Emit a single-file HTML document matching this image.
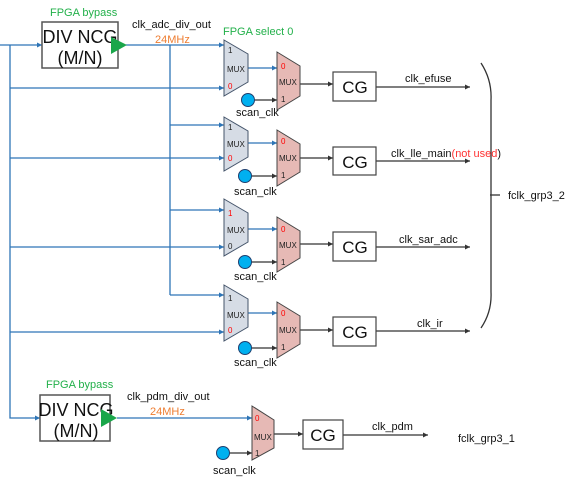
<!DOCTYPE html>
<html><head><meta charset="utf-8"><style>
html,body{margin:0;padding:0;background:#fff;}
svg{display:block;font-family:"Liberation Sans",sans-serif;}
</style></head><body>
<svg width="574" height="484" viewBox="0 0 574 484" xmlns="http://www.w3.org/2000/svg">
<defs>
<marker id="ab" markerWidth="6" markerHeight="6" refX="5" refY="3" orient="auto" markerUnits="userSpaceOnUse"><path d="M0,0.5 L5,3 L0,5.5z" fill="#2e75b6"/></marker>
<marker id="ak" markerWidth="6" markerHeight="6" refX="5" refY="3" orient="auto" markerUnits="userSpaceOnUse"><path d="M0,0.5 L5,3 L0,5.5z" fill="#333"/></marker>
</defs>
<g stroke="#2e75b6" stroke-width="1.3" fill="none">
<line x1="0" y1="45" x2="42" y2="45" marker-end="url(#ab)"/>
<polyline points="10,45 10,418 40,418" marker-end="url(#ab)"/>
<line x1="126" y1="45" x2="224" y2="45" marker-end="url(#ab)"/>
<line x1="170" y1="45" x2="170" y2="295"/>
<line x1="10" y1="88" x2="224" y2="88" marker-end="url(#ab)"/>
<line x1="170" y1="125" x2="224" y2="125" marker-end="url(#ab)"/>
<line x1="10" y1="158" x2="224" y2="158" marker-end="url(#ab)"/>
<line x1="170" y1="210" x2="224" y2="210" marker-end="url(#ab)"/>
<line x1="10" y1="247" x2="224" y2="247" marker-end="url(#ab)"/>
<line x1="170" y1="295" x2="224" y2="295" marker-end="url(#ab)"/>
<line x1="10" y1="332" x2="224" y2="332" marker-end="url(#ab)"/>
<line x1="248" y1="68" x2="277" y2="68" marker-end="url(#ab)"/>
<line x1="248" y1="143" x2="277" y2="143" marker-end="url(#ab)"/>
<line x1="248" y1="229" x2="277" y2="229" marker-end="url(#ab)"/>
<line x1="248" y1="313" x2="277" y2="313" marker-end="url(#ab)"/>
<line x1="117" y1="418" x2="252" y2="418" marker-end="url(#ab)"/>
</g>
<rect x="42" y="22" width="76" height="46" fill="#fff" stroke="#555" stroke-width="1.5"/>
<text x="80" y="43" font-size="18" text-anchor="middle" fill="#111">DIV NCG</text>
<text x="80" y="64" font-size="18" text-anchor="middle" fill="#111">(M/N)</text>
<polygon points="111,37 127,45 111,54" fill="#1aa64a"/>
<rect x="40" y="395" width="70" height="46" fill="#fff" stroke="#555" stroke-width="1.5"/>
<text x="76" y="416" font-size="18" text-anchor="middle" fill="#111">DIV NCG</text>
<text x="76" y="437" font-size="18" text-anchor="middle" fill="#111">(M/N)</text>
<polygon points="101,409 117,418 101,427" fill="#1aa64a"/>
<text x="50" y="16" font-size="11" fill="#22b04a">FPGA  bypass</text>
<text x="46" y="388" font-size="11" fill="#22b04a">FPGA  bypass</text>
<text x="223" y="35" font-size="11" fill="#22b04a">FPGA  select 0</text>
<text x="132" y="28" font-size="11" fill="#111">clk_adc_div_out</text>
<text x="155" y="43" font-size="11" fill="#ee7d31">24MHz</text>
<text x="127" y="400" font-size="11" fill="#111">clk_pdm_div_out</text>
<text x="150" y="415" font-size="11" fill="#ee7d31">24MHz</text>
<g stroke="#44546a" stroke-width="1" fill="#d6dce5">
<polygon points="224,40 248,54 248,82 224,96"/>
<polygon points="224,117 248,131 248,157 224,171"/>
<polygon points="224,199 248,213 248,242 224,256"/>
<polygon points="224,285 248,299 248,327 224,341"/>
</g>
<g font-size="8" fill="#222">
<text x="228" y="53">1</text><text x="227" y="72">MUX</text><text x="228" y="89" fill="#f00">0</text>
<text x="228" y="130">1</text><text x="227" y="147">MUX</text><text x="228" y="161" fill="#f00">0</text>
<text x="228" y="216" fill="#f00">1</text><text x="227" y="233">MUX</text><text x="228" y="249">0</text>
<text x="228" y="301">1</text><text x="227" y="318">MUX</text><text x="228" y="333" fill="#f00">0</text>
</g>
<g stroke="#333" stroke-width="1.3" fill="none">
<line x1="248" y1="100" x2="277" y2="100" marker-end="url(#ak)"/>
<line x1="246" y1="176" x2="277" y2="176" marker-end="url(#ak)"/>
<line x1="246" y1="262" x2="277" y2="262" marker-end="url(#ak)"/>
<line x1="246" y1="348" x2="277" y2="348" marker-end="url(#ak)"/>
<line x1="223" y1="453" x2="252" y2="453" marker-end="url(#ak)"/>
<line x1="300" y1="84" x2="333" y2="84" marker-end="url(#ak)"/>
<line x1="300" y1="158" x2="333" y2="158" marker-end="url(#ak)"/>
<line x1="300" y1="244" x2="333" y2="244" marker-end="url(#ak)"/>
<line x1="300" y1="330" x2="333" y2="330" marker-end="url(#ak)"/>
<line x1="274" y1="434" x2="303" y2="434" marker-end="url(#ak)"/>
<line x1="376" y1="87" x2="470" y2="87" marker-end="url(#ak)"/>
<line x1="376" y1="161" x2="470" y2="161" marker-end="url(#ak)"/>
<line x1="376" y1="247" x2="470" y2="247" marker-end="url(#ak)"/>
<line x1="376" y1="331" x2="470" y2="331" marker-end="url(#ak)"/>
<line x1="343" y1="435" x2="428" y2="435" marker-end="url(#ak)"/>
<path d="M481,63 Q492,80 491,100 L491,292 Q492,312 481,328"/>
<line x1="490" y1="195" x2="500" y2="195"/>
</g>
<g stroke="#444" stroke-width="1" fill="#e6b9b5">
<polygon points="277,52 300,66 300,96 277,110"/>
<polygon points="277,130 300,144 300,172 277,186"/>
<polygon points="277,217 300,231 300,258 277,272"/>
<polygon points="277,302 300,316 300,344 277,358"/>
<polygon points="252,406 274,420 274,448 252,460"/>
</g>
<g font-size="8" fill="#222">
<text x="281" y="69" fill="#f00">0</text><text x="279" y="85">MUX</text><text x="281" y="102">1</text>
<text x="281" y="144" fill="#f00">0</text><text x="279" y="161">MUX</text><text x="281" y="178">1</text>
<text x="281" y="232" fill="#f00">0</text><text x="279" y="248">MUX</text><text x="281" y="265">1</text>
<text x="281" y="316" fill="#f00">0</text><text x="279" y="333">MUX</text><text x="281" y="350">1</text>
<text x="255" y="421" fill="#f00">0</text><text x="254" y="440">MUX</text><text x="255" y="456">1</text>
</g>
<g fill="#00b0f0" stroke="#1f3f6f" stroke-width="1">
<circle cx="248" cy="100" r="6.5"/><circle cx="245" cy="176" r="6.5"/><circle cx="245" cy="262" r="6.5"/><circle cx="245" cy="348" r="6.5"/><circle cx="223" cy="453" r="6.5"/>
</g>
<g font-size="11" fill="#111">
<text x="236" y="116">scan_clk</text><text x="234" y="195">scan_clk</text><text x="234" y="280">scan_clk</text><text x="234" y="366">scan_clk</text><text x="213" y="474">scan_clk</text>
</g>
<g fill="#fff" stroke="#444" stroke-width="1.2">
<rect x="333" y="72" width="43" height="29"/><rect x="333" y="147" width="43" height="28"/><rect x="333" y="232" width="43" height="29"/><rect x="333" y="317" width="43" height="29"/><rect x="303" y="420" width="40" height="29"/>
</g>
<g font-size="17" fill="#111" text-anchor="middle">
<text x="355" y="93">CG</text><text x="355" y="168">CG</text><text x="355" y="253">CG</text><text x="355" y="338">CG</text><text x="323" y="441">CG</text>
</g>
<g font-size="11" fill="#111">
<text x="405" y="82">clk_efuse</text>
<text x="391" y="157">clk_lle_main<tspan fill="#f33">(not used</tspan>)</text>
<text x="399" y="243">clk_sar_adc</text>
<text x="417" y="327">clk_ir</text>
<text x="372" y="430">clk_pdm</text>
<text x="508" y="199">fclk_grp3_2</text>
<text x="458" y="442">fclk_grp3_1</text>
</g>
</svg>
</body></html>
